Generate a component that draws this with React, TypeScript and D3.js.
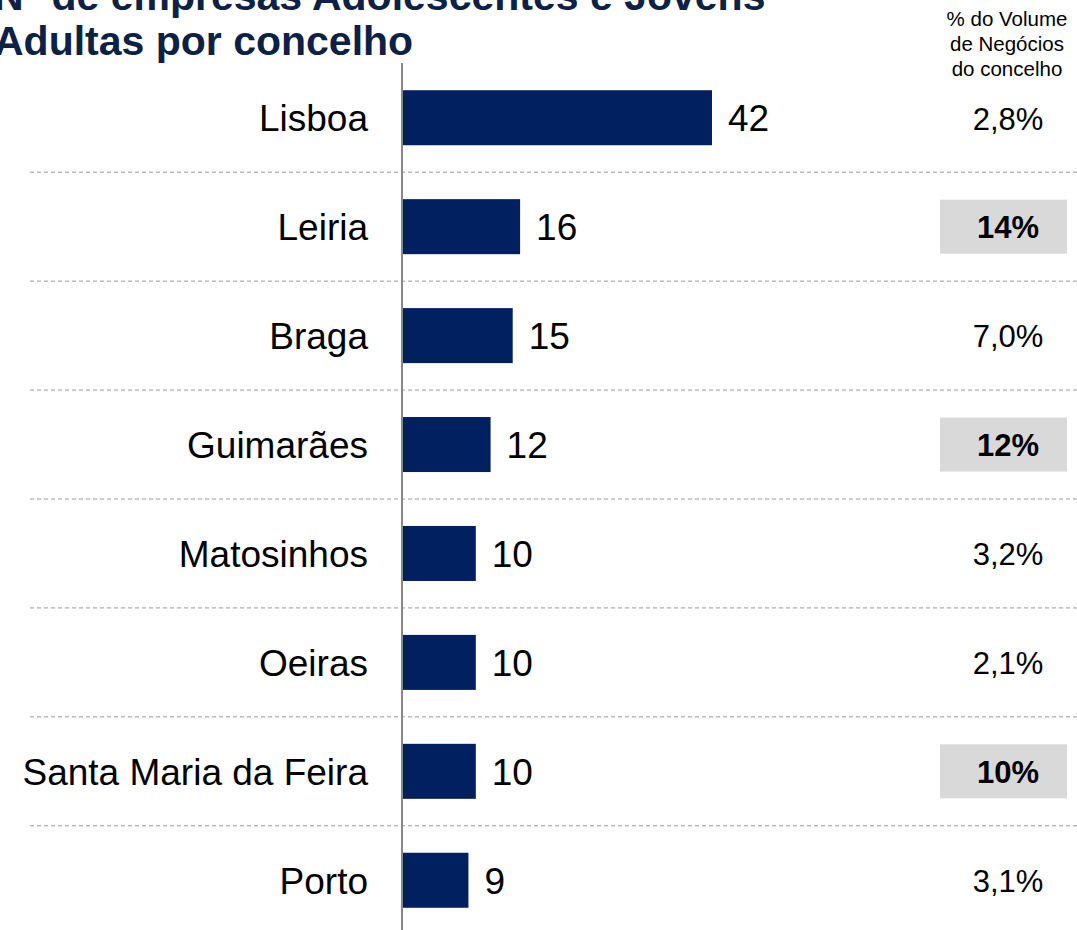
import React from "react";
import * as d3 from "d3";

const categories = ["Lisboa", "Leiria", "Braga", "Guimarães", "Matosinhos", "Oeiras", "Santa Maria da Feira", "Porto"];
const counts = [42, 16, 15, 12, 10, 10, 10, 9];
const shareLabels = ["2,8%", "14%", "7,0%", "12%", "3,2%", "2,1%", "10%", "3,1%"];
const highlighted = [false, true, false, true, false, false, true, false];
const titleLines = ["N° de empresas Adolescentes e Jovens", "Adultas por concelho"];
const headerLines = ["% do Volume", "de Negócios", "do concelho"];

const W = 1077;
const H = 930;
const FONT = "'Liberation Sans', Arial, sans-serif";

export default function App() {
  const x0 = 402;
  const x = d3.scaleLinear().domain([0, 42]).range([x0, 712]);
  const y = d3.scaleBand<string>().domain(categories).range([63, 935]).paddingInner(0.495).paddingOuter(0.25);
  const step = y.step();
  const bw = y.bandwidth();
  return (
    <svg width={W} height={H} style={{ position: "absolute", left: 0, top: 0, fontFamily: FONT }}>
      <rect width={W} height={H} fill="#fff" />
      {titleLines.map((t, i) => (
        <text key={i} x={-6} y={10 + i * 45} fontSize={41} fontWeight="bold" fill="#0c2144">{t}</text>
      ))}
      {headerLines.map((t, i) => (
        <text key={i} x={1007} y={26 + i * 25} fontSize={20.5} textAnchor="middle" fill="#000">{t}</text>
      ))}
      {categories.slice(1).map((c) => {
        const yy = (y(c) as number) + bw / 2 - step / 2;
        return <line key={c} x1={30} x2={W} y1={yy} y2={yy} stroke="#999" strokeWidth={1} strokeDasharray="4,3" />;
      })}
      {categories.map((c, i) => {
        const yt = y(c) as number;
        const cy = yt + bw / 2;
        return (
          <g key={c}>
            <rect x={x0} y={yt} width={x(counts[i]) - x0} height={bw} fill="#002060" />
            <text x={368} y={cy} dy="0.36em" fontSize={37} textAnchor="end" fill="#000">{c}</text>
            <text x={x(counts[i]) + 16} y={cy} dy="0.36em" fontSize={37} fill="#000">{counts[i]}</text>
            {highlighted[i] && <rect x={940} y={cy - 27} width={127} height={54} fill="#d9d9d9" />}
            <text x={1008} y={cy} dy="0.38em" fontSize={31} textAnchor="middle" fontWeight={highlighted[i] ? "bold" : "normal"} fill="#000">{shareLabels[i]}</text>
          </g>
        );
      })}
      <line x1={x0} x2={x0} y1={63} y2={H} stroke="#888" strokeWidth={2} />
    </svg>
  );
}
